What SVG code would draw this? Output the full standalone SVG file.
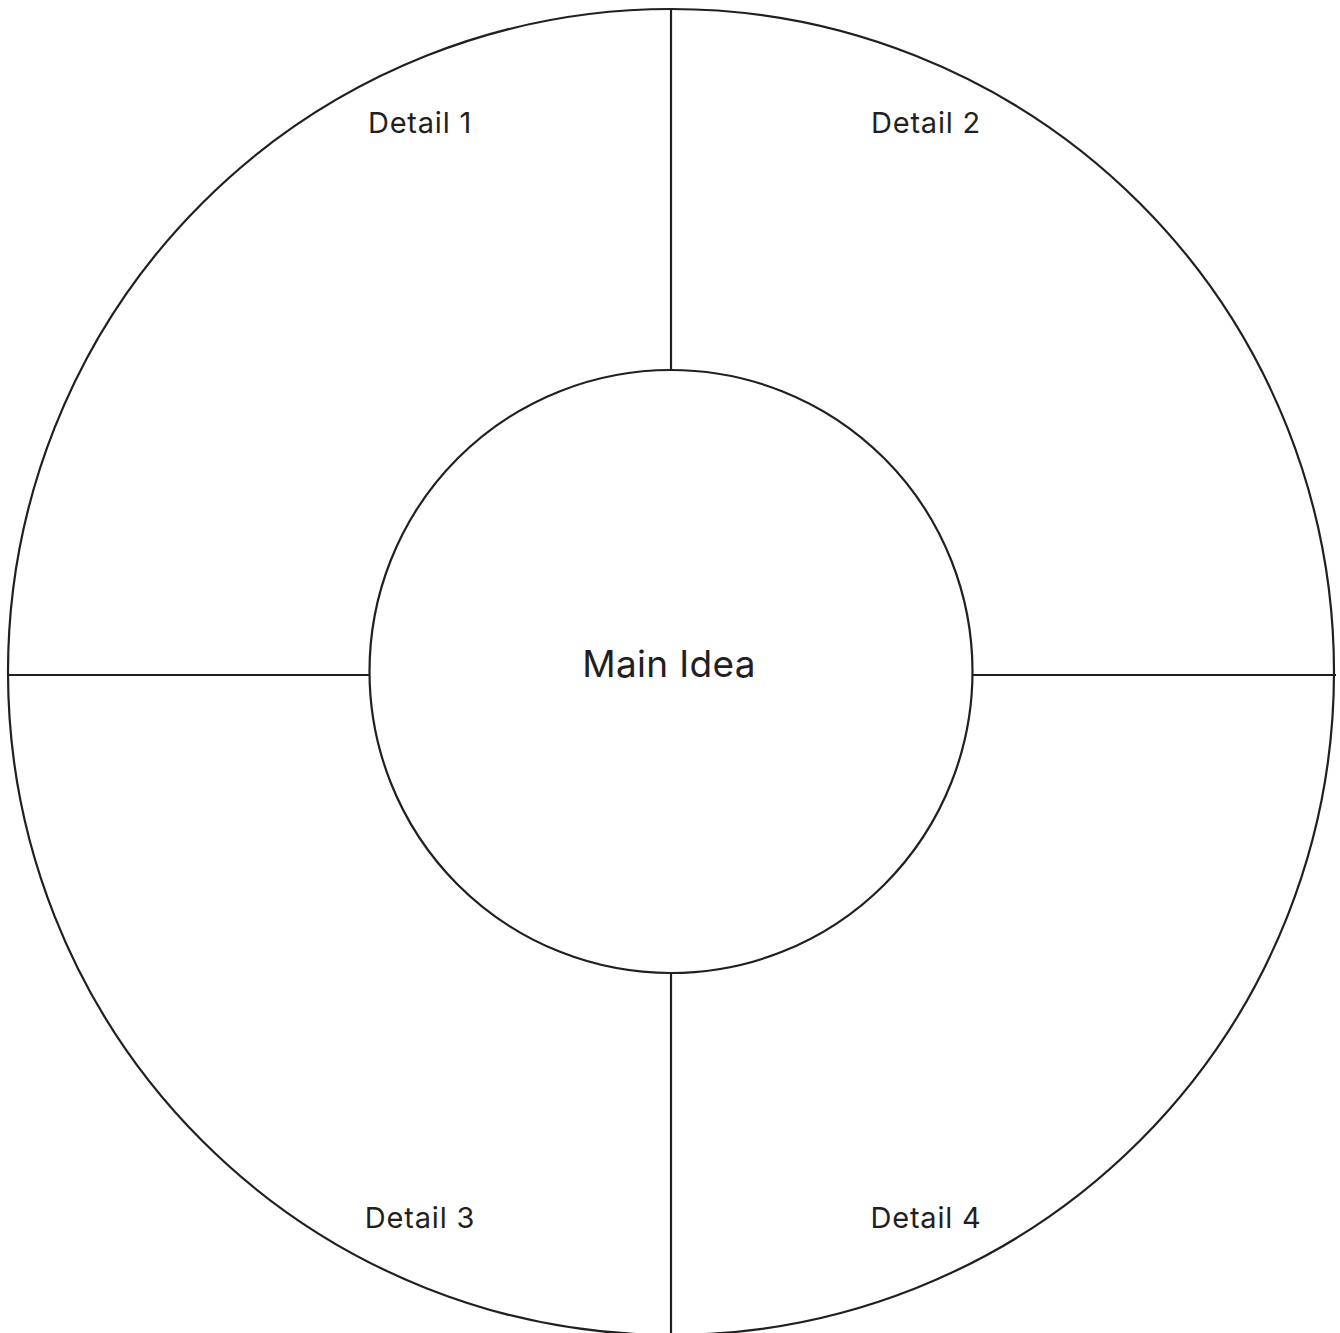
<svg xmlns="http://www.w3.org/2000/svg" width="1340" height="1333" viewBox="0 0 1340 1333">
<style>
.ln{fill:none;stroke:#231f20;stroke-width:2.2}
.t{font-family:Inter,"Liberation Sans",sans-serif;fill:#231f20;text-anchor:middle}
.d{font-size:29px;letter-spacing:0.8px}
.m{font-size:37px;letter-spacing:0.3px}
</style>
<rect width="1340" height="1333" fill="#fff"/>
<g id="outer"><ellipse class="ln" cx="671" cy="672" rx="663" ry="663"/></g>
<g id="connectors">
<line class="ln" x1="671" y1="9" x2="671" y2="370"/>
<line class="ln" x1="671" y1="973" x2="671" y2="1333"/>
<line class="ln" x1="8" y1="675" x2="370" y2="675"/>
<line class="ln" x1="972" y1="675" x2="1336" y2="675"/>
</g>
<g id="main"><circle class="ln" cx="671" cy="671.5" r="301.5" fill="#fff"/><text class="t m" x="669" y="677">Main Idea</text></g>
<g id="detail1"><text class="t d" x="420" y="133">Detail 1</text></g>
<g id="detail2"><text class="t d" x="926" y="133">Detail 2</text></g>
<g id="detail3"><text class="t d" x="420" y="1228">Detail 3</text></g>
<g id="detail4"><text class="t d" x="926" y="1228">Detail 4</text></g>
</svg>
